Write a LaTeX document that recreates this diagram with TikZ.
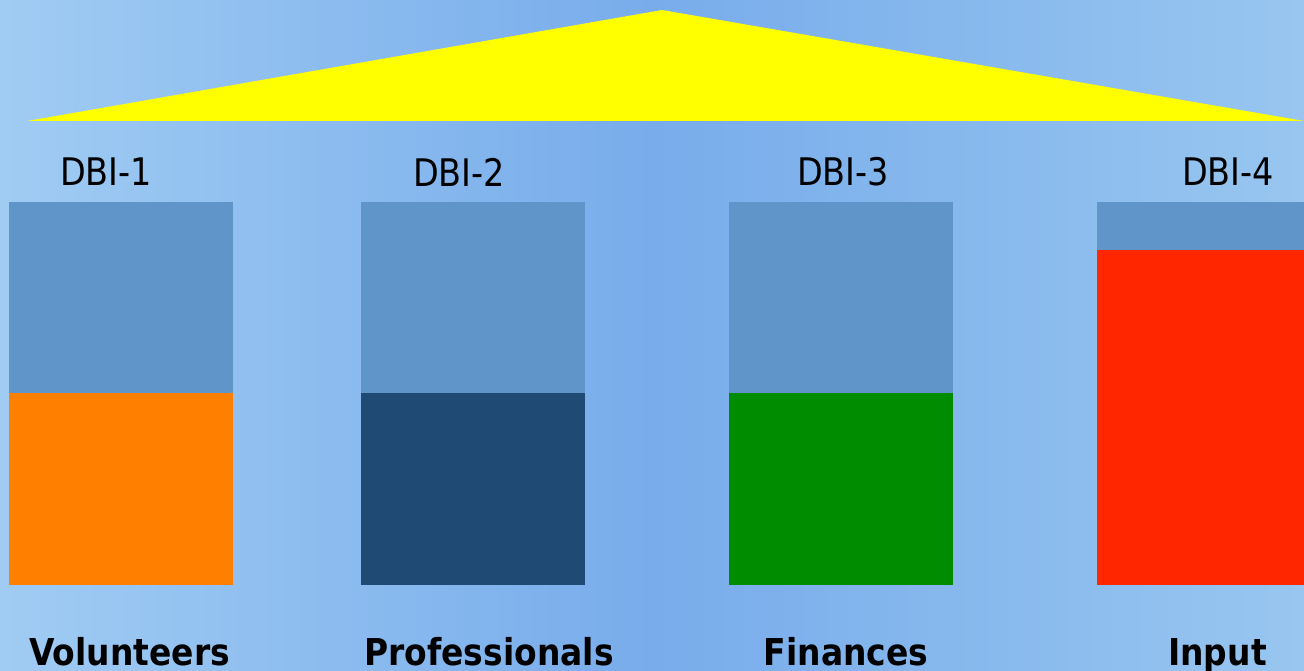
\documentclass[tikz,border=0pt]{standalone}
\usepackage{fontspec}
\newfontfamily\tah{DejaVu Sans}
\definecolor{bgl}{RGB}{160,204,243}
\definecolor{bgm}{RGB}{120,172,235}
\definecolor{bgr}{RGB}{152,198,240}
\definecolor{steel}{RGB}{95,149,200}
\definecolor{dbiorange}{RGB}{255,127,0}
\definecolor{dbinavy}{RGB}{31,74,115}
\definecolor{dbigreen}{RGB}{0,140,0}
\definecolor{dbired}{RGB}{255,38,0}
\definecolor{roofyellow}{RGB}{255,255,0}
\tikzset{
  barpart/.style={draw=none, inner sep=0pt, outer sep=0pt, anchor=north west, minimum width=224pt},
  toplab/.style={inner sep=0pt, font=\tah\fontsize{38}{40}\selectfont, xscale=0.88, text=black},
  botlab/.style={inner sep=0pt, anchor=base, font=\tah\bfseries\fontsize{37}{40}\selectfont, xscale=0.89, text=black},
}
\begin{document}
\begin{tikzpicture}[x=1pt,y=-1pt]
\useasboundingbox (0,0) rectangle (1304,671);
\shade[left color=bgl, right color=bgr, middle color=bgm] (0,0) rectangle (1304,671);
% roof
\coordinate (apex) at (662,10);
\coordinate (rl) at (27,121);
\coordinate (rr) at (1304,121);
\fill[roofyellow] (apex) -- (rl) -- (rr) -- cycle;
% labels
\node[toplab] (d1) at (106,172) {DBI-1};
\node[toplab] (d2) at (459,172) {DBI-2};
\node[toplab] (d3) at (843,172) {DBI-3};
\node[toplab] (d4) at (1228,172) {DBI-4};
% bars
\node[barpart, fill=steel, minimum height=191pt] (b1t) at (9,202) {};
\node[barpart, fill=dbiorange, minimum height=192pt] (b1b) at (9,393) {};
\node[barpart, fill=steel, minimum height=191pt] (b2t) at (361,202) {};
\node[barpart, fill=dbinavy, minimum height=192pt] (b2b) at (361,393) {};
\node[barpart, fill=steel, minimum height=191pt] (b3t) at (729,202) {};
\node[barpart, fill=dbigreen, minimum height=192pt] (b3b) at (729,393) {};
\node[barpart, fill=steel, minimum height=48pt, minimum width=207pt] (b4t) at (1097,202) {};
\node[barpart, fill=dbired, minimum height=335pt, minimum width=207pt] (b4b) at (1097,250) {};
% bottom labels
\node[botlab] (v) at (129.5,665) {Volunteers};
\node[botlab] (p) at (489,665) {Professionals};
\node[botlab] (f) at (846,665) {Finances};
\node[botlab] (i) at (1217.5,665) {Input};
\end{tikzpicture}
\end{document}
